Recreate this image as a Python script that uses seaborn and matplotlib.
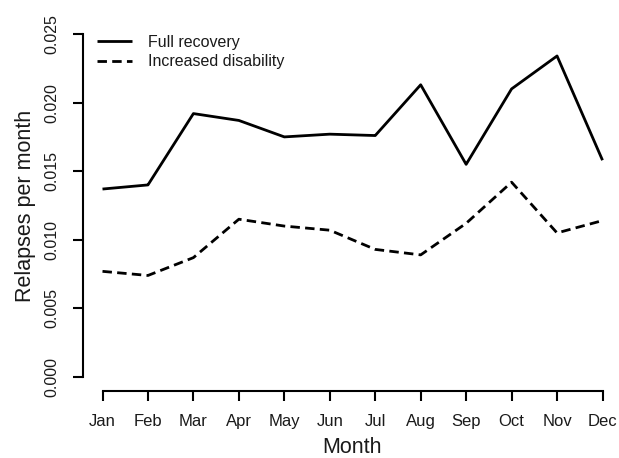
import pandas as pd
import matplotlib
matplotlib.use("Agg")
import matplotlib.pyplot as plt
import seaborn as sns

months = ["Jan", "Feb", "Mar", "Apr", "May", "Jun",
          "Jul", "Aug", "Sep", "Oct", "Nov", "Dec"]
full_recovery = [0.0137, 0.0140, 0.0192, 0.0187, 0.0175, 0.0177,
                 0.0176, 0.0213, 0.0155, 0.0210, 0.0234, 0.0158]
increased_disability = [0.0077, 0.0074, 0.0087, 0.0115, 0.0110, 0.0107,
                        0.0093, 0.0089, 0.0112, 0.0142, 0.0105, 0.0114]
y_ticks = [0.000, 0.005, 0.010, 0.015, 0.020, 0.025]

df = pd.DataFrame({
    "Month": months * 2,
    "Rate": full_recovery + increased_disability,
    "Series": ["Full recovery"] * 12 + ["Increased disability"] * 12,
})

sns.set_style("ticks")
plt.rcParams["font.family"] = ["Liberation Sans", "DejaVu Sans"]

fig = plt.figure(figsize=(6.19, 4.58), dpi=100)
ax = fig.add_axes([82.5 / 619, 67.3 / 458, 540.0 / 619, 370.4 / 458])

sns.lineplot(data=df, x="Month", y="Rate", style="Series",
             dashes=[(1, 0), (3.4, 1.9)], color="black", linewidth=2.0,
             sort=False, ax=ax)

ax.set_xlim(-0.44, 11.44)
ax.set_ylim(-0.001, 0.026)
ax.set_xticks(range(12))
ax.set_xticklabels(months, fontsize=12)
ax.set_yticks(y_ticks)
ax.set_yticklabels([f"{v:.3f}" for v in y_ticks], rotation=90,
                   va="center", fontsize=11.5)

for side in ["top", "right"]:
    ax.spines[side].set_visible(False)
ax.spines["left"].set_bounds(0, 0.025)
ax.spines["bottom"].set_bounds(0, 11)
for side in ["left", "bottom"]:
    ax.spines[side].set_linewidth(1.5)
    ax.spines[side].set_color("black")
ax.tick_params(axis="both", direction="out", length=7.5, width=1.5,
               color="black", labelcolor="#1a1a1a",
               bottom=True, left=True)
ax.tick_params(axis="x", pad=9)
ax.tick_params(axis="y", pad=9)

ax.set_xlabel("Month", fontsize=15.5, labelpad=6, color="#1a1a1a")
ax.set_ylabel("Relapses per month", fontsize=15.5, labelpad=6,
              color="#1a1a1a")

leg = ax.legend(loc="upper left", bbox_to_anchor=(0.0, 1.0),
                frameon=False, fontsize=11.5, handlelength=2.2,
                handletextpad=1.0, labelspacing=0.3)
for t in leg.get_texts():
    t.set_color("#1a1a1a")

fig.savefig("out.png", dpi=100)
